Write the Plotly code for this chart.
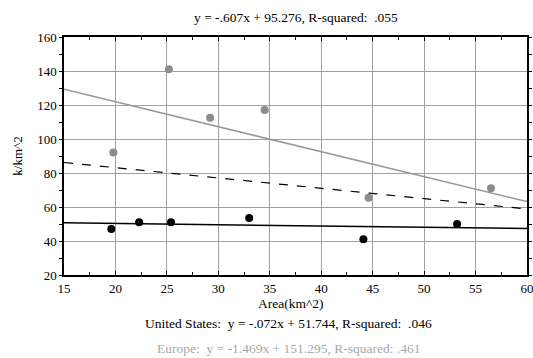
import plotly.graph_objects as go

# Data
europe_x = [19.8, 25.2, 29.2, 34.5, 44.6, 56.5]
europe_y = [92, 141, 112.5, 117, 65.5, 71]
us_x = [19.6, 22.3, 25.4, 33.0, 44.1, 53.2]
us_y = [47, 51, 51, 53.5, 41, 50]

# Regression coefficients (slope, intercept) as printed on chart
fit_all = (-0.607, 95.276)
fit_us = (-0.072, 51.744)
fit_eu = (-1.469, 151.295)
x_range = [15, 60]

title_all = "y = -.607x + 95.276, R-squared:  .055"
label_us = "United States:  y = -.072x + 51.744, R-squared:  .046"
label_eu = "Europe:  y = -1.469x + 151.295, R-squared: .461"
x_title = "Area(km^2)"
y_title = "k/km^2"

FONT = "Liberation Serif, Times New Roman, serif"
GRAY = "#8c8c8c"


def line_y(fit):
    return [fit[0] * x + fit[1] for x in x_range]


fig = go.Figure()
fig.add_trace(go.Scatter(x=x_range, y=line_y(fit_eu), mode="lines",
                         line=dict(color="#999999", width=1.5), showlegend=False))
fig.add_trace(go.Scatter(x=x_range, y=line_y(fit_all), mode="lines",
                         line=dict(color="black", width=1.2, dash="dash"), showlegend=False))
fig.add_trace(go.Scatter(x=x_range, y=line_y(fit_us), mode="lines",
                         line=dict(color="black", width=1.5), showlegend=False))
fig.add_trace(go.Scatter(x=europe_x, y=europe_y, mode="markers",
                         marker=dict(color=GRAY, size=8), showlegend=False))
fig.add_trace(go.Scatter(x=us_x, y=us_y, mode="markers",
                         marker=dict(color="black", size=8), showlegend=False))

tickfont = dict(family=FONT, size=13, color="black")


def ann(text, x, y, yshift, color="black"):
    return dict(text=text, x=x, y=y, xref="paper", yref="paper", yshift=yshift,
                xanchor="center", yanchor="middle", showarrow=False,
                font=dict(family=FONT, size=13.5, color=color))


fig.update_layout(
    width=533, height=358,
    margin=dict(l=64, r=6, t=37, b=83),
    paper_bgcolor="white", plot_bgcolor="white",
    font=dict(family=FONT, size=13, color="black"),
    xaxis=dict(range=[15, 60], dtick=5, tick0=15, showgrid=True,
               gridcolor="#a0a0a0", gridwidth=1.2, automargin=False,
               showline=True, linecolor="black", linewidth=1.5, mirror="allticks",
               ticks="inside", ticklen=4, tickcolor="black", tickfont=tickfont,
               ticklabeloverflow="allow", ticklabelstandoff=1,
               minor=dict(dtick=2.5, ticks="inside", ticklen=3, tickcolor="black", showgrid=False),
               zeroline=False),
    yaxis=dict(range=[20, 160], dtick=20, tick0=20, showgrid=True,
               gridcolor="#a0a0a0", gridwidth=1.2, automargin=False,
               showline=True, linecolor="black", linewidth=1.5, mirror="allticks",
               ticks="outside", ticklen=3, tickcolor="black", tickfont=tickfont,
               ticklabeloverflow="allow",
               minor=dict(dtick=10, ticks="outside", ticklen=3, tickcolor="black", showgrid=False),
               title=dict(text=y_title, standoff=12, font=dict(family=FONT, size=13)),
               zeroline=False),
    annotations=[
        ann(title_all, 0.5, 1, 20),
        ann(x_title, 0.49, 0, -28),
        ann(label_us, 0.485, 0, -48),
        ann(label_eu, 0.485, 0, -73, "#a8a8a8"),
    ],
)

fig.write_html("out.html", config={"displayModeBar": False},
               post_script="document.body.style.margin='0px';")
